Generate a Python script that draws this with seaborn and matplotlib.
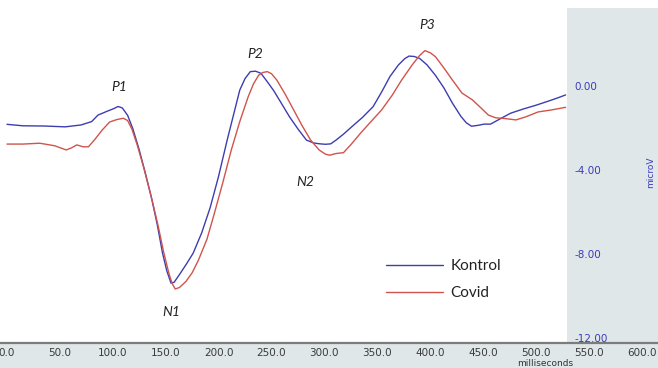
import matplotlib
matplotlib.use("Agg")
import matplotlib.pyplot as plt
import pandas as pd
import seaborn as sns

# ---------------- data ----------------
series_names = ["Kontrol", "Covid"]

kontrol_ms = [0, 15, 35, 55, 70, 80, 86, 95, 101, 105, 109, 114, 119, 125, 131, 137,
              142, 147, 151, 155, 158, 164, 170, 176, 184, 192, 200, 208, 214, 220,
              225, 230, 235, 240, 246, 252, 259, 267, 275, 283, 290, 296, 301, 306,
              311, 318, 326, 336, 346, 354, 362, 370, 376, 380, 385, 390, 397, 405,
              413, 421, 429, 434, 439, 445, 451, 457, 465, 476, 488, 500, 512, 520, 528]
kontrol_uv = [-1.73, -1.80, -1.81, -1.85, -1.76, -1.60, -1.29, -1.10, -0.98, -0.88,
              -0.95, -1.30, -1.95, -2.95, -4.10, -5.33, -6.50, -7.86, -8.70, -9.29,
              -9.25, -8.81, -8.35, -7.86, -6.90, -5.70, -4.20, -2.50, -1.30, -0.10,
              0.45, 0.78, 0.80, 0.70, 0.30, -0.12, -0.70, -1.37, -1.95, -2.48, -2.62,
              -2.66, -2.68, -2.66, -2.48, -2.20, -1.84, -1.40, -0.89, -0.20, 0.55,
              1.10, 1.40, 1.52, 1.50, 1.41, 1.10, 0.60, 0.00, -0.72, -1.35, -1.65,
              -1.82, -1.78, -1.72, -1.72, -1.50, -1.20, -1.00, -0.82, -0.62, -0.48, -0.33]

covid_ms = [0, 15, 31, 45, 56, 61, 66, 72, 77, 83, 90, 97, 104, 110, 114, 118, 123,
            129, 136, 143, 148, 153, 156, 159, 163, 169, 175, 181, 189, 196, 204, 212,
            220, 228, 233, 238, 242, 246, 250, 255, 263, 271, 279, 287, 295, 301, 305,
            311, 318, 325, 334, 344, 354, 364, 373, 383, 390, 395, 400, 405, 413, 421,
            430, 440, 448, 455, 462, 470, 481, 490, 502, 514, 528]
covid_uv = [-2.67, -2.67, -2.63, -2.75, -2.95, -2.85, -2.71, -2.80, -2.80, -2.45,
            -2.00, -1.62, -1.50, -1.44, -1.55, -1.95, -2.70, -3.75, -5.10, -6.60,
            -7.80, -8.82, -9.30, -9.57, -9.50, -9.22, -8.80, -8.19, -7.20, -5.97,
            -4.50, -2.95, -1.60, -0.41, 0.20, 0.62, 0.74, 0.78, 0.68, 0.38, -0.30,
            -1.05, -1.80, -2.48, -2.95, -3.15, -3.20, -3.12, -3.08, -2.70, -2.16,
            -1.60, -1.05, -0.35, 0.38, 1.10, 1.55, 1.78, 1.68, 1.49, 0.95, 0.38,
            -0.24, -0.57, -0.95, -1.29, -1.42, -1.45, -1.52, -1.38, -1.14, -1.05, -0.92]

x_ticks = [0, 50, 100, 150, 200, 250, 300, 350, 400, 450, 500, 550, 600]
x_tick_labels = ["0.0", "50.0", "100.0", "150.0", "200.0", "250.0", "300.0",
                 "350.0", "400.0", "450.0", "500.0", "550.0", "600.0"]
y_ticks = [0, -4, -8, -12]
y_tick_labels = ["0.00", "-4.00", "-8.00", "-12.00"]
component_labels = ["P1", "N1", "P2", "N2", "P3"]

# ---------------- style ----------------
W, H = 658, 368
BLUE = "#3d3db0"
RED = "#d0544c"
PANEL = "#dfe7e9"
AXIS_BLUE = "#3b3bb8"

sns.set_theme(style="white")
plt.rcParams["font.family"] = ["DejaVu Sans"]

fig = plt.figure(figsize=(W / 100, H / 100), dpi=100, facecolor=PANEL)
ax = fig.add_axes([0, 25 / H, 1, 343 / H])
ax.set_facecolor("white")

px_per_ms = 1.058
x0_px = 7.0
ax.set_xlim(-x0_px / px_per_ms, (W - x0_px) / px_per_ms)
ax.set_ylim((88 - 343) / 21.0, 88 / 21.0)

# right grey panel
panel_start = (567 - x0_px) / px_per_ms
ax.axvspan(panel_start, (W - x0_px) / px_per_ms, ymin=0, ymax=1 - 8 / 343,
           color=PANEL, lw=0, zorder=0)

df = pd.concat([
    pd.DataFrame({"ms": kontrol_ms, "uv": kontrol_uv, "group": series_names[0]}),
    pd.DataFrame({"ms": covid_ms, "uv": covid_uv, "group": series_names[1]}),
])
sns.lineplot(data=df, x="ms", y="uv", hue="group", hue_order=series_names,
             palette={series_names[0]: BLUE, series_names[1]: RED},
             estimator=None, sort=False, lw=1.0, ax=ax, zorder=3)

sns.move_legend(ax, "upper left", bbox_to_anchor=(386 / W, 1 - 259.5 / 343),
                frameon=False, title=None, handlelength=3.7, handletextpad=0.5,
                labelspacing=0.82, borderpad=0, borderaxespad=0, fontsize=11)
for t in ax.get_legend().get_texts():
    t.set_fontfamily("Lato")
    t.set_color("#222222")

# component annotations
comp_pos = [(105.9, 0.05), (155.0, -10.67), (234.4, 1.62), (282.0, -4.48), (397.0, 3.0)]
for lab, (xx, yy) in zip(component_labels, comp_pos):
    ax.text(xx, yy, lab, fontsize=10, style="italic", family="Lato",
            ha="center", va="center", color="#222222", zorder=4)

# x axis
ax.set_xticks(x_ticks)
ax.set_xticklabels(x_tick_labels, fontsize=7.5, color="#3a3a3a")
ax.tick_params(axis="x", length=0, pad=3.5)
ax.set_yticks([])
ax.set_xlabel("")
ax.set_ylabel("")
for s in ["top", "left", "right"]:
    ax.spines[s].set_visible(False)
ax.spines["bottom"].set_color("#7c7c7c")
ax.spines["bottom"].set_linewidth(1.6)

# y labels in the right panel
y_lab_x = (574 - x0_px) / px_per_ms
for v, lab in zip(y_ticks, y_tick_labels):
    ax.text(y_lab_x, v + 0.07, lab, fontsize=7.5, color=AXIS_BLUE, ha="left",
            va="center", zorder=4)

fig.text(545 / W, 1 - 363 / H, "milliseconds", fontsize=6.5, color="#333333",
         ha="center", va="center")
fig.text(651 / W, 1 - 172 / H, "microV", fontsize=6.5, color=AXIS_BLUE,
         rotation=90, ha="center", va="center")

fig.savefig("out.png", dpi=100, facecolor=PANEL)
